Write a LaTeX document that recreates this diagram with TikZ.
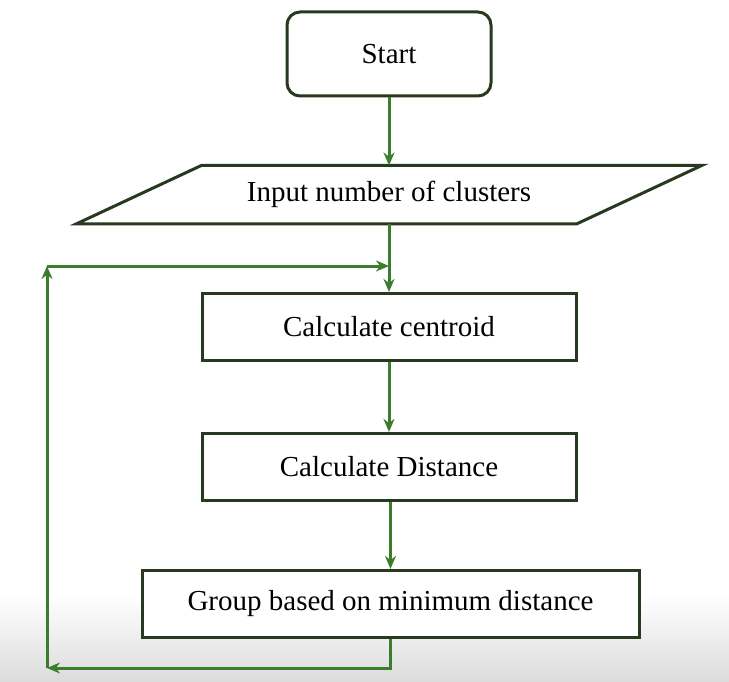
\documentclass[tikz,border=0pt]{standalone}
\usepackage{fontspec}
\setmainfont{Liberation Serif}
\usetikzlibrary{positioning,arrows.meta}

\definecolor{boxline}{HTML}{27391F}
\definecolor{flowgreen}{HTML}{3B7D2B}

\tikzset{
  base/.style={draw=boxline, line width=3pt, fill=white, font=\fontsize{29}{34}\selectfont, inner sep=0pt},
  startbox/.style={base, rounded corners=13pt, minimum width=204pt, minimum height=84pt},
  inputbox/.style={font=\fontsize{29}{34}\selectfont, inner sep=0pt, minimum width=500pt, minimum height=58pt},
  procbox/.style={base, rectangle, minimum width=374pt, minimum height=67pt},
  flow/.style={draw=flowgreen, line width=3pt, -{Stealth[length=13pt,width=11pt]}}
}

\begin{document}
\begin{tikzpicture}[node distance=68pt]
  \useasboundingbox (0,0) rectangle (729pt,-682pt);
  \shade[top color=white, bottom color=black!14] (0,-595pt) rectangle (729pt,-682pt);

  % Nodes
  \node[startbox]                   (start) at (389pt,-54pt) {Start};
  \node[inputbox, below=of start]   (inp)  {Input number of clusters};
  \draw[boxline, line width=3pt]
    ([xshift=62.5pt]inp.north west) -- ([xshift=62.5pt]inp.north east)
    -- ([xshift=-62.5pt]inp.south east) -- ([xshift=-62.5pt]inp.south west) -- cycle;
  \node[procbox, below=of inp]      (cent) {Calculate centroid};
  \node[procbox, below=70pt of cent] (dist) {Calculate Distance};
  \node[procbox, minimum width=497pt, below=67pt of dist, xshift=1.5pt] (grp) {Group based on minimum distance};
  \coordinate (lb) at (47pt,-668pt);
  \coordinate (lt) at (47pt,-266pt);

  % Edges
  \draw[flow] (start) -- (inp);
  \draw[flow] (inp) -- (cent);
  \draw[flow] (cent) -- (dist);
  \draw[flow] (dist.south -| grp.north) -- (grp);
  \draw[flow] (grp.south) |- (lb); % back to the left side
  \draw[flow] (lb) -- (lt);
  \draw[flow] (lt) -- (lt -| cent.north); % rejoins above the centroid step
\end{tikzpicture}
\end{document}
